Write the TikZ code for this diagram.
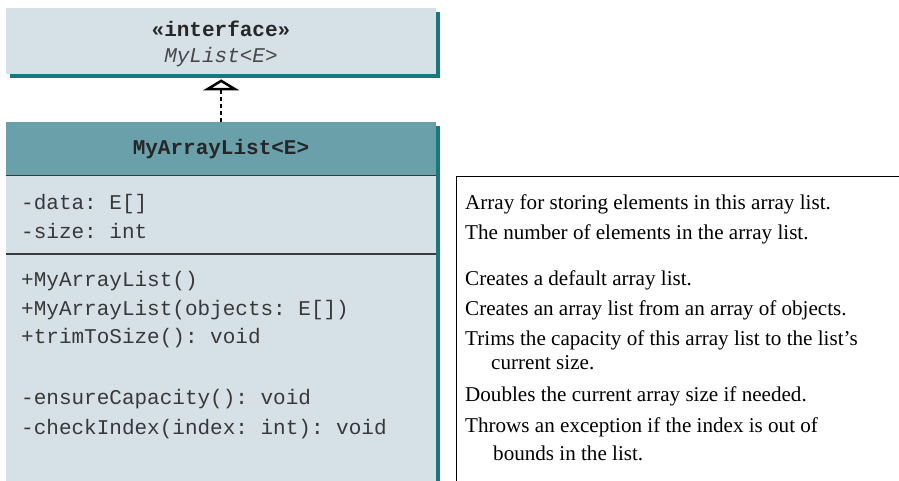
\documentclass[tikz,border=0pt]{standalone}
\usepackage{fontspec}
\setmainfont{Liberation Serif}
\setmonofont{Liberation Mono}
\usetikzlibrary{arrows.meta}
\definecolor{boxfill}{HTML}{D5E1E6}
\definecolor{headfill}{HTML}{6AA0A9}
\definecolor{shadowteal}{HTML}{16797F}
\definecolor{sepgray}{HTML}{3A3A3A}
\begin{document}
\begin{tikzpicture}[x=1pt,y=-1pt,
  mono/.style={font=\ttfamily\fontsize{21}{25}\selectfont, inner sep=0pt, anchor=base west, text=black!78},
  desc/.style={font=\fontsize{21.1}{25}\selectfont, inner sep=0pt, anchor=base west},
  panel/.style={fill=boxfill, inner sep=0pt, anchor=north west, draw=none}]
\useasboundingbox (0,0) rectangle (899,481);
% interface
\fill[shadowteal] (10,12) rectangle (440,78);
\node[panel, minimum width=430pt, minimum height=66pt] (iface) at (6,8) {};
\node[font=\ttfamily\bfseries\fontsize{21}{25}\selectfont, inner sep=0pt, anchor=base, text=black!85] (stereo) at (221,37) {«interface»};
\node[font=\ttfamily\itshape\fontsize{21}{25}\selectfont, inner sep=0pt, anchor=base, text=black!72] (iname) at (221,63) {MyList<E>};
% class
\fill[shadowteal] (10,126) rectangle (440,481);
\node[panel, fill=headfill, minimum width=430pt, minimum height=53pt] (cls) at (6,122) {};
\node[panel, minimum width=430pt, minimum height=306pt] (body) at (6,175) {};
\node[font=\ttfamily\bfseries\fontsize{21}{25}\selectfont, inner sep=0pt, anchor=base, text=black!85] (cname) at (221,155) {MyArrayList<E>};
\draw[sepgray, line width=1.5pt] (cls.south west) -- (cls.south east);
\coordinate (sepL) at (6,254);
\coordinate (sepR) at (436,254);
\draw[sepgray, line width=1.5pt] (sepL) -- (sepR);
\node[mono] (f1) at (21,210) {-data: E[]};
\node[mono] (f2) at (21,238) {-size: int};
\node[mono] (m1) at (21,286) {+MyArrayList()};
\node[mono] (m2) at (21,315) {+MyArrayList(objects: E[])};
\node[mono] (m3) at (21,343) {+trimToSize(): void};
\node[mono] (m4) at (21,404) {-ensureCapacity(): void};
\node[mono] (m5) at (21,434) {-checkIndex(index: int): void};
% realization arrow
\draw[line width=2pt, dash pattern=on 4pt off 3pt, -{Triangle[open, length=11pt, width=36pt, line width=2.5pt]}, shorten >=5pt] (cls.north) -- (iface.south);
% description box
\node[inner sep=0pt, anchor=north west, minimum width=443pt, minimum height=304pt] (dbox) at (456,177) {};
\draw[line width=1pt] (dbox.north east) -- (dbox.north west) -- (dbox.south west);
\node[desc] (d1) at (465,210) {Array for storing elements in this array list.};
\node[desc] (d2) at (465,239) {The number of elements in the array list.};
\node[desc] (d3) at (465,285) {Creates a default array list.};
\node[desc] (d4) at (465,315) {Creates an array list from an array of objects.};
\node[desc] (d5) at (465,345) {Trims the capacity of this array list to the list’s};
\node[desc] (d5b) at (491,369) {current size.};
\node[desc] (d6) at (465,401) {Doubles the current array size if needed.};
\node[desc] (d7) at (465,432) {Throws an exception if the index is out of};
\node[desc] (d7b) at (493,460) {bounds in the list.};
\end{tikzpicture}
\end{document}
